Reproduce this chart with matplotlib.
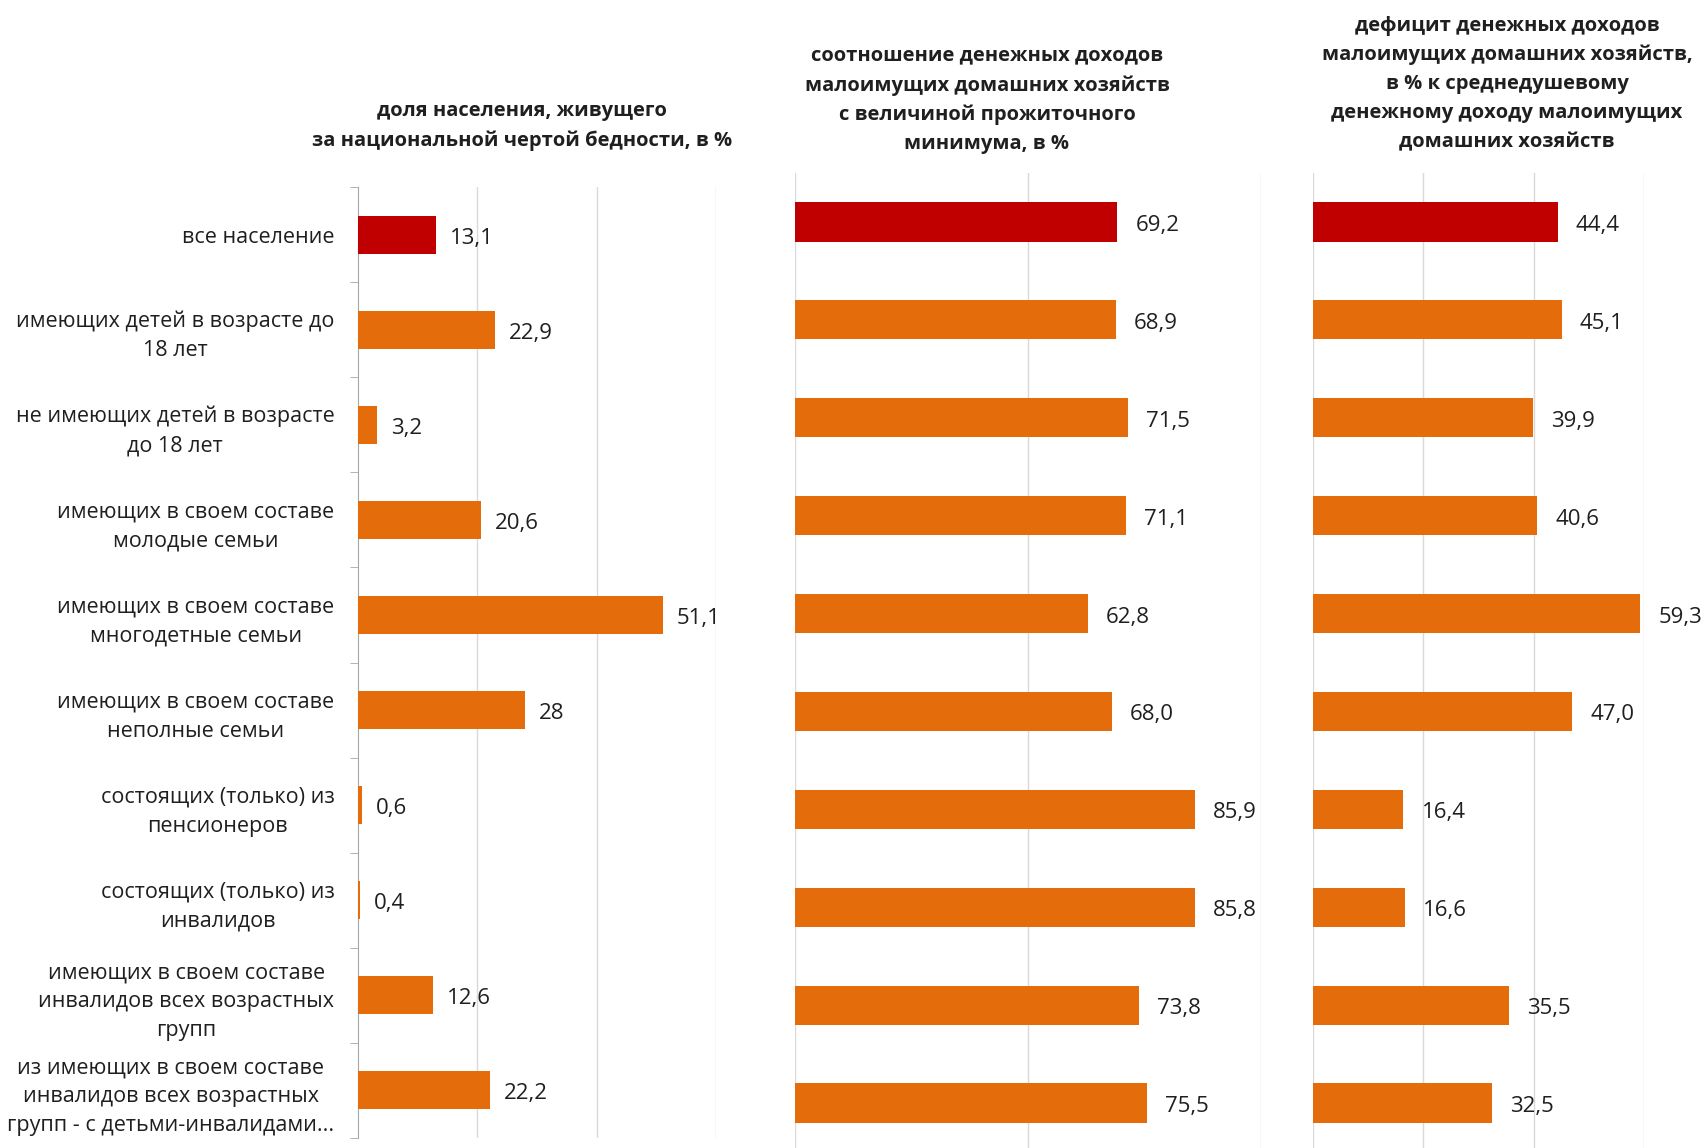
#!/usr/bin/env python3
"""Малоимущие домашние хозяйства: три горизонтальные диаграммы"""

import matplotlib
matplotlib.use('Agg')
import matplotlib.pyplot as plt
import numpy as np

plt.rcParams['font.family'] = ['Open Sans', 'DejaVu Sans']

# данные
categories = [
    'все население',
    'имеющих детей в возрасте до\n18 лет',
    'не имеющих детей в возрасте\nдо 18 лет',
    'имеющих в своем составе\nмолодые семьи',
    'имеющих в своем составе\nмногодетные семьи',
    'имеющих в своем составе\nнеполные семьи',
    'состоящих (только) из\nпенсионеров',
    'состоящих (только) из\nинвалидов',
    'имеющих в своем составе\nинвалидов всех возрастных\nгрупп',
    'из имеющих в своем составе\nинвалидов всех возрастных\nгрупп - с детьми-инвалидами...',
]
share = [13.1, 22.9, 3.2, 20.6, 51.1, 28, 0.6, 0.4, 12.6, 22.2]
share_labels = ['13,1', '22,9', '3,2', '20,6', '51,1', '28', '0,6', '0,4', '12,6', '22,2']
ratio = [69.2, 68.9, 71.5, 71.1, 62.8, 68.0, 85.9, 85.8, 73.8, 75.5]
deficit = [44.4, 45.1, 39.9, 40.6, 59.3, 47.0, 16.4, 16.6, 35.5, 32.5]

titles = [
    'доля населения, живущего\nза национальной чертой бедности, в %',
    'соотношение денежных доходов\nмалоимущих домашних хозяйств\nс величиной прожиточного\nминимума, в %',
    'дефицит денежных доходов\nмалоимущих домашних хозяйств,\nв % к среднедушевому\nденежному доходу малоимущих\nдомашних хозяйств',
]

RED, ORANGE, GRID = '#C00000', '#E46C0A', '#D9D9D9'
TXT = '#1F1F1F'
W, H = 1706, 1148

fig = plt.figure(figsize=(W / 100, H / 100), dpi=100)
fig.patch.set_facecolor('white')


def px_axes(x0, x1, y0, y1):
    # координаты в пикселях (сверху вниз) -> доли фигуры
    return fig.add_axes([x0 / W, 1 - y1 / H, (x1 - x0) / W, (y1 - y0) / H])


ax1 = px_axes(358, 716, 187, 1138)
ax2 = px_axes(795, 1261, 173, 1152)
ax3 = px_axes(1313, 1644, 173, 1152)

y = np.arange(len(categories))
colors = [RED] + [ORANGE] * (len(categories) - 1)

panels = [
    (ax1, share, share_labels, 60, [0, 20, 40, 60], 10),
    (ax2, ratio, [f'{v:.1f}'.replace('.', ',') for v in ratio], 100, [0, 50, 100], 13),
    (ax3, deficit, [f'{v:.1f}'.replace('.', ',') for v in deficit], 60, [0, 20, 40, 60], 13),
]

for ax, vals, labs, xmax, grid, off in panels:
    ax.barh(y, vals, height=0.4, color=colors, zorder=3)
    ax.set_xlim(0, xmax)
    ax.set_ylim(len(categories) - 0.5, -0.5)
    ax.set_xticks(grid)
    ax.xaxis.grid(True, color=GRID, lw=1.0, zorder=0)
    ax.tick_params(axis='x', length=0, labelbottom=False)
    for s in ax.spines.values():
        s.set_visible(False)
    for yi, v, t in zip(y, vals, labs):
        ax.annotate(t, (v, yi), xytext=(off, -2.5), textcoords='offset points',
                    va='center', ha='left', fontsize=16, color=TXT)
    ax.set_yticks([])

# левая ось с категориями
ax1.spines['left'].set_visible(True)
ax1.spines['left'].set_color('#A6A6A6')
ax1.set_yticks(y)
ax1.set_yticklabels(categories, fontsize=15.5, color=TXT, multialignment='center',
                    linespacing=1.5)
ax1.set_yticks(np.arange(-0.5, len(categories), 1), minor=True)
ax1.tick_params(axis='y', which='major', length=0, pad=17)
ax1.tick_params(axis='y', which='minor', length=6, color='#A6A6A6')
ax1.xaxis.grid(True, color=GRID, lw=1.0, zorder=0)
ax1.set_xticks([20, 40, 60])

# заголовки
title_pos = [(522, 126), (987, 100), (1507, 84)]
for (tx, ty), t in zip(title_pos, titles):
    fig.text(tx / W, 1 - ty / H, t, ha='center', va='center', fontsize=14.5,
             fontweight='bold', color=TXT, linespacing=1.6)

fig.savefig('out.png', dpi=100, facecolor='white')
plt.close()
